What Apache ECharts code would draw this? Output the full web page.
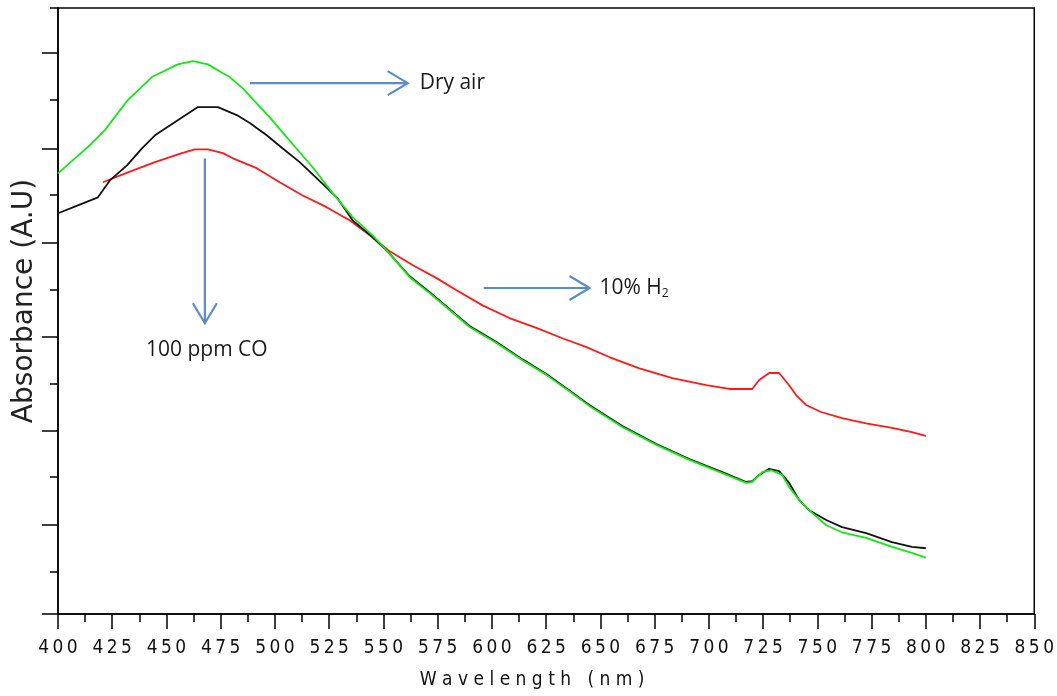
<!DOCTYPE html>
<html><head><meta charset="utf-8">
<script src="https://cdn.jsdelivr.net/npm/echarts@6/dist/echarts.min.js"></script>
<style>html,body{margin:0;padding:0;background:#fff}#c{width:1057px;height:696px}</style>
</head><body><div id="c"></div>
<script>
// ---- data ----
const xMin = 400, xMax = 850, xStep = 25;
const yLongTicks = [0, 1.9, 3.9, 5.9, 7.9, 9.9, 11.95];
const yShortTicks = [0.9, 2.92, 4.9, 6.9, 8.93, 10.95, 12.9];

const dryAirNm = [400,407.8,413.8,421.6,432.2,443.3,455.2,462.2,469.1,476.0,479.2,485.2,491.6,497.6,505.4,511.4,517.4,526.6,535.8,545.0,551.5,562.1,571.3,580.5,589.7,602.1,614.1,625.1,635.7,644.9,660.1,675.8,691.0,706.2,717.2,720.0,724.6,728.7,733.8,737.0,741.6,746.2,754.1,761.4,772.5,784.4,793.6,800];
const dryAirAbs = [9.38,9.70,9.94,10.30,10.94,11.43,11.70,11.77,11.70,11.51,11.43,11.19,10.87,10.57,10.15,9.83,9.51,8.96,8.45,8.06,7.74,7.17,6.83,6.47,6.11,5.77,5.40,5.09,4.74,4.43,3.98,3.60,3.28,3.00,2.79,2.81,3.02,3.06,2.96,2.70,2.43,2.21,1.89,1.74,1.62,1.43,1.30,1.20];

const coNm = [400,409.2,418.4,423.9,431.8,438.7,444.7,455.2,464.5,473.7,482.4,488.4,496.2,503.6,511.4,519.2,528.5,535.8,542.3,551.5,562.1,571.3,580.5,589.7,602.1,614.1,625.1,635.7,644.9,660.1,675.8,691.0,706.2,717.2,720.0,723.2,727.8,732.4,737.0,741.6,746.2,754.1,761.4,772.5,784.4,793.6,800];
const coAbs = [8.53,8.70,8.87,9.23,9.55,9.91,10.19,10.51,10.79,10.79,10.62,10.45,10.19,9.91,9.62,9.28,8.87,8.38,8.13,7.74,7.19,6.85,6.49,6.13,5.79,5.42,5.11,4.76,4.45,4.00,3.62,3.30,3.02,2.81,2.83,2.96,3.09,3.04,2.79,2.43,2.21,2.00,1.85,1.72,1.53,1.43,1.40];

const h2Nm = [420.7,432.2,444.7,457.1,463.1,469.1,476.0,480.6,491.6,502.2,512.8,523.8,534.4,545.0,552.9,563.4,574.5,583.7,595.7,608.1,620.5,632.5,643.6,654.1,668.0,683.2,698.8,709.4,720.0,723.2,727.8,732.4,737.0,740.2,744.8,751.7,761.4,772.5,784.4,793.6,800];
const h2Abs = [9.19,9.40,9.62,9.81,9.89,9.89,9.81,9.70,9.49,9.19,8.91,8.66,8.38,8.02,7.72,7.43,7.15,6.89,6.57,6.30,6.09,5.87,5.68,5.47,5.23,5.02,4.87,4.79,4.79,4.98,5.13,5.13,4.87,4.66,4.45,4.30,4.17,4.06,3.96,3.87,3.79];

// annotations: [x1, y1, x2, y2] in data units
const arrows = [[488.4, 11.30, 561.2, 11.30], [596.2, 6.94, 645.0, 6.94], [467.7, 9.70, 467.7, 6.19]];
const notes = [
  {text: 'Dry air', x: 566.7, y: 11.30, align: 'left'},
  {text: '10% H{s|2}', x: 649.6, y: 6.94, align: 'left'},
  {text: '100 ppm CO', x: 468.6, y: 5.62, align: 'center'}
];
const xTitle = 'Wavelength (nm)';
const yTitle = 'Absorbance (A.U)';

// ---- chart ----
const pair = (xs, ys) => xs.map((x, i) => [x, ys[i]]);
const chart = echarts.init(document.getElementById('c'));
const tickFont = "'Liberation Sans Narrow','DejaVu Sans Condensed','Liberation Sans',sans-serif";
const spaced = (s, j) => String(s).split('').join(j);

chart.setOption({
  animation: false,
  backgroundColor: '#fff',
  grid: {left: 58, right: 22, top: 8, bottom: 82, show: true, borderColor: '#000', borderWidth: 1.5},
  xAxis: {
    type: 'value', min: xMin, max: xMax, interval: xStep,
    axisLine: {lineStyle: {color: '#000', width: 1.5}},
    axisTick: {length: 15, lineStyle: {color: '#000', width: 1.5}},
    minorTick: {show: true, splitNumber: 2, length: 8, lineStyle: {color: '#000', width: 1.5}},
    splitLine: {show: false},
    axisLabel: {formatter: v => spaced(v, '\u2009'), fontSize: 19, color: '#111', margin: 25, fontFamily: tickFont},
    name: spaced(xTitle, ' '), nameLocation: 'middle', nameGap: 57,
    nameTextStyle: {fontSize: 19, color: '#111', fontFamily: tickFont, padding: [0, 28, 0, 0]}
  },
  yAxis: [{
    type: 'value', min: 0, max: 12.9, position: 'left',
    axisLine: {show: true, lineStyle: {color: '#000', width: 1.5}},
    axisTick: {show: true, length: 16, customValues: yLongTicks, lineStyle: {color: '#000', width: 1.5}},
    axisLabel: {show: false}, splitLine: {show: false},
    name: yTitle, nameLocation: 'middle', nameGap: 19,
    nameTextStyle: {fontSize: 28, color: '#222', fontFamily: 'DejaVu Sans', padding: [0, 0, 0, 20]}
  }, {
    type: 'value', min: 0, max: 12.9, position: 'left',
    axisLine: {show: false},
    axisTick: {show: true, length: 8, customValues: yShortTicks, lineStyle: {color: '#000', width: 1.5}},
    axisLabel: {show: false}, splitLine: {show: false}
  }],
  series: [
    {name: '10% H2', type: 'line', data: pair(h2Nm, h2Abs), showSymbol: false, lineStyle: {color: '#ff1a1a', width: 1.8}, itemStyle: {color: '#ff1a1a'}, z: 2},
    {name: '100 ppm CO', type: 'line', data: pair(coNm, coAbs), showSymbol: false, lineStyle: {color: '#111', width: 1.8}, itemStyle: {color: '#111'}, z: 3},
    {name: 'Dry air', type: 'line', data: pair(dryAirNm, dryAirAbs), showSymbol: false, lineStyle: {color: '#13e813', width: 1.8}, itemStyle: {color: '#13e813'}, z: 4}
  ]
});

const arrowColor = '#5b8cc6';
const toPx = (x, y) => chart.convertToPixel({xAxisIndex: 0, yAxisIndex: 0}, [x, y]);
const els = [];
arrows.forEach(a => {
  const p1 = toPx(a[0], a[1]), p2 = toPx(a[2], a[3]);
  const dx = p2[0] - p1[0], dy = p2[1] - p1[1], L = Math.hypot(dx, dy);
  const ux = dx / L, uy = dy / L, nx = -uy, ny = ux, h = 20, w = 12;
  els.push({type: 'line', shape: {x1: p1[0], y1: p1[1], x2: p2[0], y2: p2[1]}, style: {stroke: arrowColor, lineWidth: 2.2}});
  els.push({type: 'polyline', shape: {points: [
    [p2[0] - ux * h + nx * w, p2[1] - uy * h + ny * w], [p2[0], p2[1]], [p2[0] - ux * h - nx * w, p2[1] - uy * h - ny * w]
  ]}, style: {stroke: arrowColor, lineWidth: 2.2, fill: null}});
});
notes.forEach(n => {
  const p = toPx(n.x, n.y);
  els.push({type: 'text', x: p[0], y: p[1], style: {
    text: n.text, fill: '#1a1a1a', font: "21px 'Open Sans', 'Liberation Sans', sans-serif",
    align: n.align, verticalAlign: 'middle',
    rich: {s: {fontSize: 12, fontFamily: 'Open Sans', fill: '#1a1a1a', padding: [12, 0, 0, 0]}}
  }});
});
chart.setOption({graphic: els});
</script>
</body></html>
